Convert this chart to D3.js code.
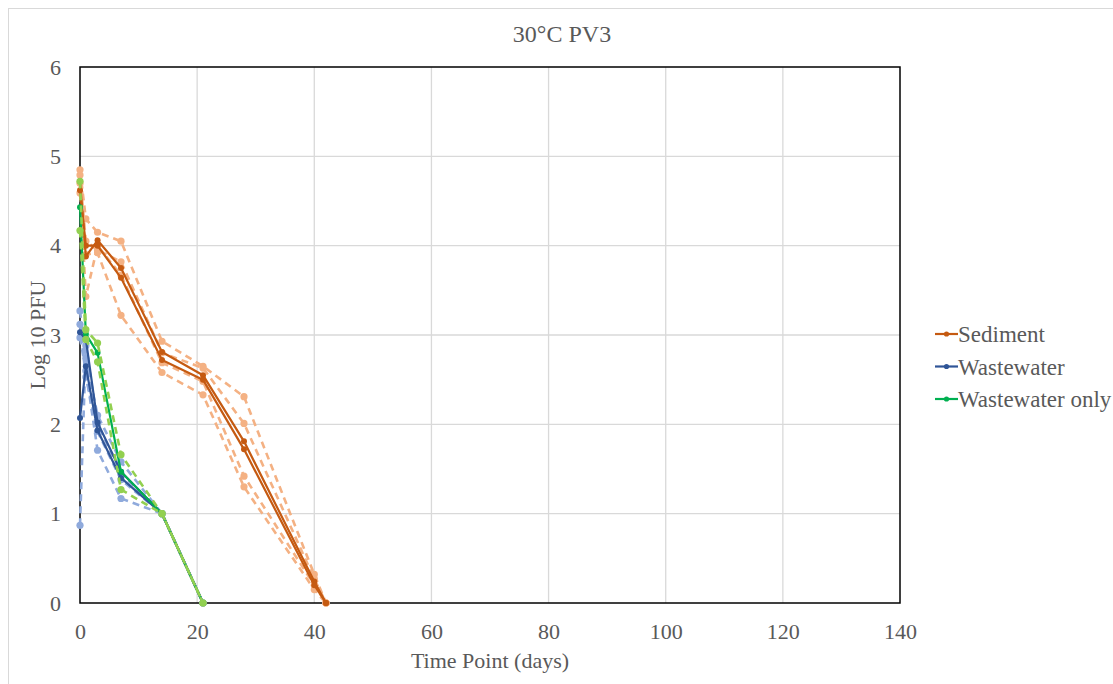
<!DOCTYPE html>
<html>
<head>
<meta charset="utf-8">
<script src="https://cdn.jsdelivr.net/npm/d3@7/dist/d3.min.js"></script>
<style>
  body { margin: 0; background: #fff; }
  text { font-family: "Liberation Serif", "Times New Roman", serif; fill: #595959; }
</style>
</head>
<body>
<div id="chart"></div>
<script>
// ---- data ----
const xTicks = [0, 20, 40, 60, 80, 100, 120, 140];
const yTicks = [0, 1, 2, 3, 4, 5, 6];

// sediment replicates (dashed) and means (solid)
const sedDays = [0, 1, 3, 7, 14, 21, 28, 40, 42];
const sedRep1 = [4.85, 4.30, 4.15, 4.05, 2.93, 2.65, 2.31, 0.32, 0];
const sedRep2 = [4.79, 4.05, 3.95, 3.82, 2.80, 2.63, 2.01, 0.27, 0];
const sedRep3 = [4.70, 3.43, 4.00, 3.67, 2.69, 2.48, 1.42, 0.20, 0];
const sedRep4 = [4.59, 3.90, 3.92, 3.22, 2.58, 2.33, 1.30, 0.15, 0];
const sedMean1 = [4.72, 3.88, 4.06, 3.75, 2.81, 2.55, 1.81, 0.24, 0];
const sedMean2 = [4.62, 4.00, 4.00, 3.64, 2.72, 2.50, 1.72, 0.20, 0];

// wastewater
const wwDays = [0, 1, 3, 7, 14, 21];
const wwRep1 = [3.27, 2.74, 2.10, 1.58, 1.0, 0];
const wwRep2 = [3.12, 2.53, 1.92, 1.38, 1.0, 0];
const wwRep3 = [2.97, 2.60, 1.71, 1.17, 1.0, 0];
const wwRep4 = [0.87, 2.88, 2.00, 1.45, 1.0, 0];
const wwMean1 = [2.07, 2.65, 1.93, 1.40, 1.0, 0];
const wwMean2 = [3.03, 2.95, 2.02, 1.47, 1.0, 0];

// wastewater only
const woDays = [0, 1, 3, 7, 14, 21];
const woRep1 = [4.72, 3.06, 2.91, 1.66, 1.0, 0];
const woRep2 = [4.17, 2.95, 2.70, 1.27, 1.0, 0];
const woMean = [4.43, 3.01, 2.80, 1.47, 1.0, 0];

const legendNames = ["Sediment", "Wastewater", "Wastewater only"];
const legendColors = ["#C55A11", "#2F5597", "#00B050"];

// ---- layout ----
const W = 1113, H = 684;
const plot = { left: 80, right: 900, top: 67, bottom: 603 };

const svg = d3.select("#chart").append("svg")
  .attr("width", W).attr("height", H);

svg.append("rect")
  .attr("x", 8.5).attr("y", 8.5)
  .attr("width", W - 8).attr("height", H - 8)
  .attr("fill", "#fff").attr("stroke", "#d9d9d9");

const x = d3.scaleLinear().domain([0, 140]).range([plot.left, plot.right]);
const y = d3.scaleLinear().domain([0, 6]).range([plot.bottom, plot.top]);

// gridlines
svg.append("g").selectAll("line.v")
  .data(xTicks.slice(1, -1))
  .join("line")
  .attr("x1", d => x(d)).attr("x2", d => x(d))
  .attr("y1", plot.top).attr("y2", plot.bottom)
  .attr("stroke", "#d9d9d9").attr("stroke-width", 1.3);

svg.append("g").selectAll("line.h")
  .data(yTicks.slice(1, -1))
  .join("line")
  .attr("x1", plot.left).attr("x2", plot.right)
  .attr("y1", d => y(d)).attr("y2", d => y(d))
  .attr("stroke", "#d9d9d9").attr("stroke-width", 1.3);

// plot frame
svg.append("rect")
  .attr("x", plot.left).attr("y", plot.top)
  .attr("width", plot.right - plot.left).attr("height", plot.bottom - plot.top)
  .attr("fill", "none").attr("stroke", "#000").attr("stroke-width", 1.5);

// axes
const xAxis = svg.append("g")
  .attr("transform", `translate(0,${plot.bottom})`)
  .call(d3.axisBottom(x).tickValues(xTicks).tickFormat(d3.format("d")).tickSize(0).tickPadding(20));
const yAxis = svg.append("g")
  .attr("transform", `translate(${plot.left},0)`)
  .call(d3.axisLeft(y).tickValues(yTicks).tickFormat(d3.format("d")).tickSize(0).tickPadding(19));
[xAxis, yAxis].forEach(a => {
  a.attr("font-size", null).attr("font-family", null);
  a.select(".domain").remove();
  a.selectAll("text")
    .style("font-family", "Liberation Serif, serif")
    .style("font-size", "22px")
    .attr("fill", "#595959");
});

// titles
svg.append("text")
  .attr("x", 562).attr("y", 42)
  .attr("text-anchor", "middle")
  .style("font-size", "24px")
  .text("30°C PV3");

svg.append("text")
  .attr("x", (plot.left + plot.right) / 2).attr("y", 668)
  .attr("text-anchor", "middle")
  .style("font-size", "22px")
  .text("Time Point (days)");

svg.append("text")
  .attr("transform", `translate(45,${(plot.top + plot.bottom) / 2}) rotate(-90)`)
  .attr("text-anchor", "middle")
  .style("font-size", "22px")
  .text("Log 10 PFU");

// series
const line = d3.line().x(d => x(d[0])).y(d => y(d[1]));

function drawSeries(days, vals, color, dashed) {
  const pts = days.map((d, i) => [d, vals[i]]);
  const g = svg.append("g");
  g.append("path")
    .datum(pts)
    .attr("d", line)
    .attr("fill", "none")
    .attr("stroke", color)
    .attr("stroke-width", dashed ? 2.6 : 2.2)
    .attr("stroke-dasharray", dashed ? "7,5" : null)
    .attr("stroke-linejoin", "round");
  g.selectAll("circle")
    .data(pts)
    .join("circle")
    .attr("cx", d => x(d[0])).attr("cy", d => y(d[1]))
    .attr("r", dashed ? 3.6 : 3)
    .attr("fill", color);
}

const sedLight = "#F4B183", wwLight = "#8FAADC", woLight = "#92D050";

[sedRep1, sedRep2, sedRep3, sedRep4].forEach(v => drawSeries(sedDays, v, sedLight, true));
[sedMean1, sedMean2].forEach(v => drawSeries(sedDays, v, legendColors[0], false));
[wwRep1, wwRep2, wwRep3, wwRep4].forEach(v => drawSeries(wwDays, v, wwLight, true));
[wwMean1, wwMean2].forEach(v => drawSeries(wwDays, v, legendColors[1], false));
drawSeries(woDays, woMean, legendColors[2], false);
[woRep1, woRep2].forEach(v => drawSeries(woDays, v, woLight, true));

// legend
const legend = svg.append("g").attr("transform", "translate(935,334)");
const item = legend.selectAll("g")
  .data(legendNames)
  .join("g")
  .attr("transform", (d, i) => `translate(0,${i * 32.5})`);
item.append("line")
  .attr("x1", 0).attr("x2", 23)
  .attr("stroke", (d, i) => legendColors[i]).attr("stroke-width", 2.2);
item.append("circle")
  .attr("cx", 11.5).attr("r", 2.6)
  .attr("fill", (d, i) => legendColors[i]);
item.append("text")
  .attr("x", 23).attr("y", 8)
  .style("font-size", "23px")
  .text(d => d);
</script>
</body>
</html>
